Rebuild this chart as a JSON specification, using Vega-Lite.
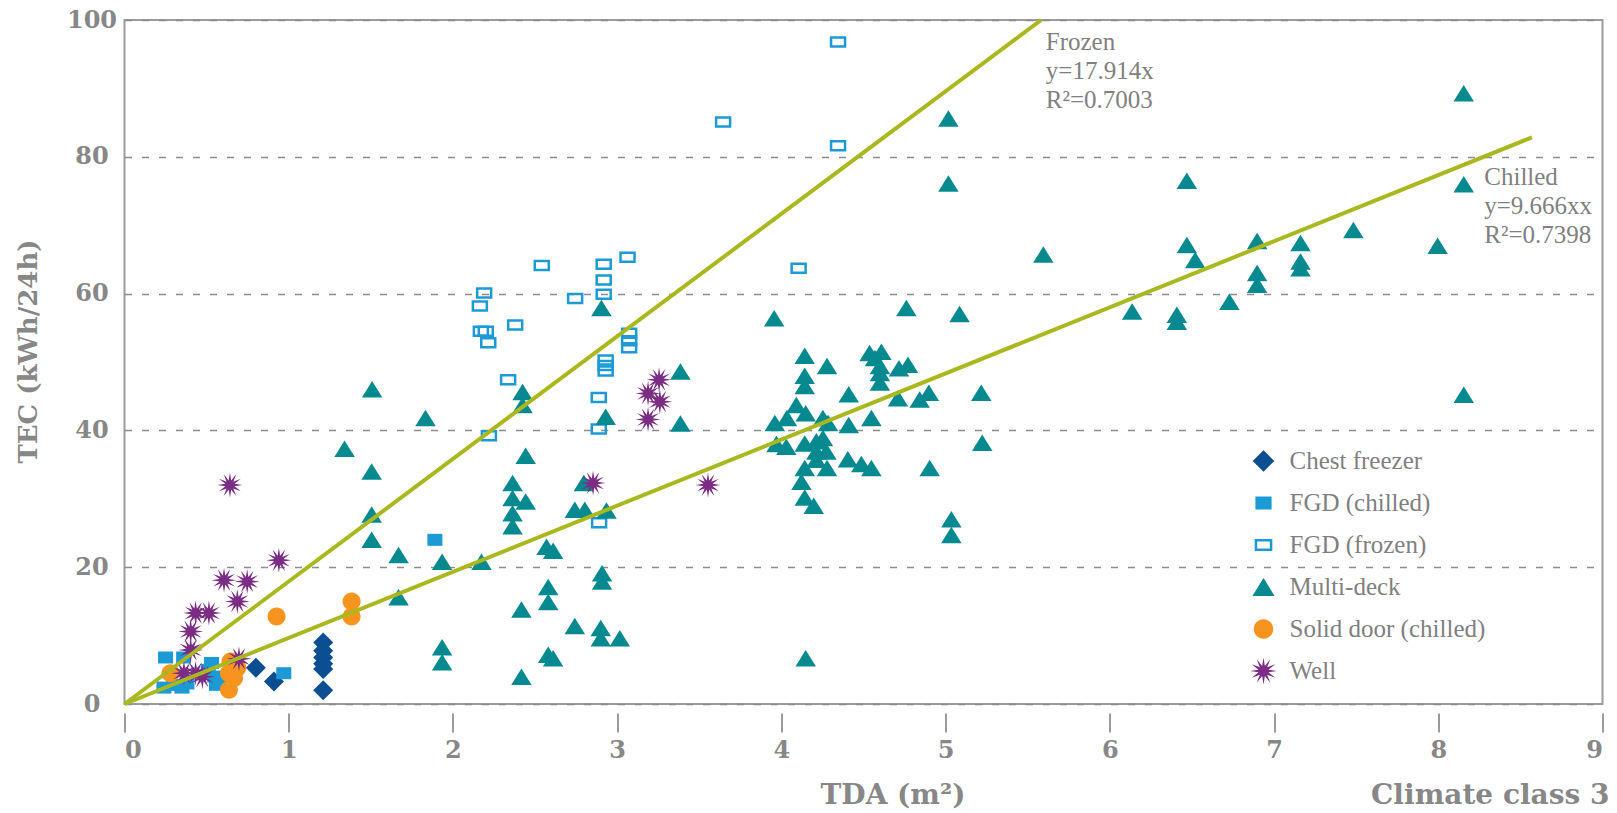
{
  "$schema": "https://vega.github.io/schema/vega-lite/v6.json",
  "width": 1478,
  "height": 684,
  "autosize": "none",
  "padding": {"left": 124.5, "top": 20, "right": 14.5, "bottom": 109},
  "background": "white",
  "config": {
    "view": {"stroke": "#9b9b9b", "strokeWidth": 2},
    "legend": {
      "orient": "none",
      "legendX": 1124,
      "legendY": 426,
      "padding": 0,
      "labelFont": "Liberation Serif",
      "labelFontSize": 25,
      "labelColor": "#808080",
      "labelOffset": 11,
      "labelLimit": 0,
      "symbolSize": 729,
      "symbolStrokeWidth": 2.5,
      "gridAlign": "all",
      "rowPadding": 4
    }
  },
  "title": {
    "text": "Climate class 3",
    "orient": "bottom",
    "anchor": "end",
    "frame": "group",
    "font": "DejaVu Serif",
    "fontWeight": "bold",
    "fontSize": 28,
    "color": "#878787",
    "offset": -27,
    "dx": 7
  },
  "datasets": {
    "pts": [
      {"type": "Chest freezer", "TDA": 0.80, "TEC": 5.3},
      {"type": "Chest freezer", "TDA": 0.91, "TEC": 3.3},
      {"type": "Chest freezer", "TDA": 1.21, "TEC": 9.0},
      {"type": "Chest freezer", "TDA": 1.21, "TEC": 7.8},
      {"type": "Chest freezer", "TDA": 1.21, "TEC": 6.8},
      {"type": "Chest freezer", "TDA": 1.21, "TEC": 5.9},
      {"type": "Chest freezer", "TDA": 1.21, "TEC": 5.1},
      {"type": "Chest freezer", "TDA": 1.21, "TEC": 2.0},

      {"type": "FGD (chilled)", "TDA": 0.25, "TEC": 6.8},
      {"type": "FGD (chilled)", "TDA": 0.36, "TEC": 6.8},
      {"type": "FGD (chilled)", "TDA": 0.24, "TEC": 2.4},
      {"type": "FGD (chilled)", "TDA": 0.30, "TEC": 2.8},
      {"type": "FGD (chilled)", "TDA": 0.35, "TEC": 2.4},
      {"type": "FGD (chilled)", "TDA": 0.38, "TEC": 3.0},
      {"type": "FGD (chilled)", "TDA": 0.51, "TEC": 5.0},
      {"type": "FGD (chilled)", "TDA": 0.53, "TEC": 6.0},
      {"type": "FGD (chilled)", "TDA": 0.55, "TEC": 4.0},
      {"type": "FGD (chilled)", "TDA": 0.56, "TEC": 2.8},
      {"type": "FGD (chilled)", "TDA": 0.59, "TEC": 3.4},
      {"type": "FGD (chilled)", "TDA": 0.97, "TEC": 4.5},
      {"type": "FGD (chilled)", "TDA": 1.89, "TEC": 24.0},

      {"type": "FGD (frozen)", "TDA": 4.345, "TEC": 96.8},
      {"type": "FGD (frozen)", "TDA": 4.345, "TEC": 81.6},
      {"type": "FGD (frozen)", "TDA": 3.645, "TEC": 85.1},
      {"type": "FGD (frozen)", "TDA": 2.541, "TEC": 64.1},
      {"type": "FGD (frozen)", "TDA": 2.918, "TEC": 64.3},
      {"type": "FGD (frozen)", "TDA": 3.063, "TEC": 65.3},
      {"type": "FGD (frozen)", "TDA": 2.918, "TEC": 62.0},
      {"type": "FGD (frozen)", "TDA": 2.918, "TEC": 59.9},
      {"type": "FGD (frozen)", "TDA": 2.744, "TEC": 59.3},
      {"type": "FGD (frozen)", "TDA": 2.19, "TEC": 60.1},
      {"type": "FGD (frozen)", "TDA": 2.164, "TEC": 58.2},
      {"type": "FGD (frozen)", "TDA": 2.17, "TEC": 54.5},
      {"type": "FGD (frozen)", "TDA": 2.20, "TEC": 54.5},
      {"type": "FGD (frozen)", "TDA": 2.215, "TEC": 52.8},
      {"type": "FGD (frozen)", "TDA": 2.379, "TEC": 55.4},
      {"type": "FGD (frozen)", "TDA": 3.073, "TEC": 54.2},
      {"type": "FGD (frozen)", "TDA": 3.073, "TEC": 53.1},
      {"type": "FGD (frozen)", "TDA": 3.073, "TEC": 52.1},
      {"type": "FGD (frozen)", "TDA": 2.93, "TEC": 50.3},
      {"type": "FGD (frozen)", "TDA": 2.93, "TEC": 49.5},
      {"type": "FGD (frozen)", "TDA": 2.93, "TEC": 48.7},
      {"type": "FGD (frozen)", "TDA": 2.336, "TEC": 47.4},
      {"type": "FGD (frozen)", "TDA": 2.888, "TEC": 44.8},
      {"type": "FGD (frozen)", "TDA": 2.219, "TEC": 39.2},
      {"type": "FGD (frozen)", "TDA": 2.888, "TEC": 40.2},
      {"type": "FGD (frozen)", "TDA": 4.105, "TEC": 63.7},
      {"type": "FGD (frozen)", "TDA": 2.89, "TEC": 26.5},

      {"type": "Multi-deck", "TDA": 1.508, "TEC": 46.0},
      {"type": "Multi-deck", "TDA": 1.833, "TEC": 41.8},
      {"type": "Multi-deck", "TDA": 1.340, "TEC": 37.3},
      {"type": "Multi-deck", "TDA": 1.505, "TEC": 34.0},
      {"type": "Multi-deck", "TDA": 1.505, "TEC": 27.7},
      {"type": "Multi-deck", "TDA": 1.505, "TEC": 24.0},
      {"type": "Multi-deck", "TDA": 1.669, "TEC": 21.8},
      {"type": "Multi-deck", "TDA": 1.934, "TEC": 20.8},
      {"type": "Multi-deck", "TDA": 1.669, "TEC": 15.6},
      {"type": "Multi-deck", "TDA": 1.934, "TEC": 8.3},
      {"type": "Multi-deck", "TDA": 1.934, "TEC": 6.1},
      {"type": "Multi-deck", "TDA": 2.424, "TEC": 45.6},
      {"type": "Multi-deck", "TDA": 2.424, "TEC": 43.7},
      {"type": "Multi-deck", "TDA": 2.93, "TEC": 42.0},
      {"type": "Multi-deck", "TDA": 2.904, "TEC": 57.9},
      {"type": "Multi-deck", "TDA": 3.385, "TEC": 41.0},
      {"type": "Multi-deck", "TDA": 3.385, "TEC": 48.6},
      {"type": "Multi-deck", "TDA": 2.443, "TEC": 36.3},
      {"type": "Multi-deck", "TDA": 2.363, "TEC": 32.3},
      {"type": "Multi-deck", "TDA": 2.363, "TEC": 30.1},
      {"type": "Multi-deck", "TDA": 2.443, "TEC": 29.6},
      {"type": "Multi-deck", "TDA": 2.363, "TEC": 27.9},
      {"type": "Multi-deck", "TDA": 2.363, "TEC": 26.0},
      {"type": "Multi-deck", "TDA": 2.797, "TEC": 32.3},
      {"type": "Multi-deck", "TDA": 2.742, "TEC": 28.4},
      {"type": "Multi-deck", "TDA": 2.803, "TEC": 28.4},
      {"type": "Multi-deck", "TDA": 2.935, "TEC": 28.3},
      {"type": "Multi-deck", "TDA": 2.57, "TEC": 23.0},
      {"type": "Multi-deck", "TDA": 2.61, "TEC": 22.4},
      {"type": "Multi-deck", "TDA": 2.174, "TEC": 20.8},
      {"type": "Multi-deck", "TDA": 2.908, "TEC": 19.1},
      {"type": "Multi-deck", "TDA": 2.908, "TEC": 17.9},
      {"type": "Multi-deck", "TDA": 2.58, "TEC": 17.1},
      {"type": "Multi-deck", "TDA": 2.58, "TEC": 14.9},
      {"type": "Multi-deck", "TDA": 2.417, "TEC": 13.8},
      {"type": "Multi-deck", "TDA": 2.742, "TEC": 11.4},
      {"type": "Multi-deck", "TDA": 2.9, "TEC": 11.1},
      {"type": "Multi-deck", "TDA": 2.9, "TEC": 9.6},
      {"type": "Multi-deck", "TDA": 3.016, "TEC": 9.6},
      {"type": "Multi-deck", "TDA": 2.58, "TEC": 7.2},
      {"type": "Multi-deck", "TDA": 2.61, "TEC": 6.7},
      {"type": "Multi-deck", "TDA": 2.417, "TEC": 4.0},
      {"type": "Multi-deck", "TDA": 3.956, "TEC": 56.4},
      {"type": "Multi-deck", "TDA": 4.761, "TEC": 57.9},
      {"type": "Multi-deck", "TDA": 5.085, "TEC": 57.0},
      {"type": "Multi-deck", "TDA": 5.017, "TEC": 85.6},
      {"type": "Multi-deck", "TDA": 5.017, "TEC": 76.1},
      {"type": "Multi-deck", "TDA": 5.595, "TEC": 65.7},
      {"type": "Multi-deck", "TDA": 4.142, "TEC": 50.9},
      {"type": "Multi-deck", "TDA": 4.278, "TEC": 49.4},
      {"type": "Multi-deck", "TDA": 4.142, "TEC": 48.0},
      {"type": "Multi-deck", "TDA": 4.142, "TEC": 46.5},
      {"type": "Multi-deck", "TDA": 4.537, "TEC": 51.3},
      {"type": "Multi-deck", "TDA": 4.609, "TEC": 51.5},
      {"type": "Multi-deck", "TDA": 4.57, "TEC": 50.6},
      {"type": "Multi-deck", "TDA": 4.60, "TEC": 49.4},
      {"type": "Multi-deck", "TDA": 4.60, "TEC": 48.4},
      {"type": "Multi-deck", "TDA": 4.60, "TEC": 47.0},
      {"type": "Multi-deck", "TDA": 4.716, "TEC": 49.1},
      {"type": "Multi-deck", "TDA": 4.771, "TEC": 49.6},
      {"type": "Multi-deck", "TDA": 4.41, "TEC": 45.3},
      {"type": "Multi-deck", "TDA": 4.71, "TEC": 44.7},
      {"type": "Multi-deck", "TDA": 4.842, "TEC": 44.5},
      {"type": "Multi-deck", "TDA": 4.898, "TEC": 45.5},
      {"type": "Multi-deck", "TDA": 5.217, "TEC": 45.5},
      {"type": "Multi-deck", "TDA": 4.091, "TEC": 43.7},
      {"type": "Multi-deck", "TDA": 4.148, "TEC": 42.5},
      {"type": "Multi-deck", "TDA": 4.034, "TEC": 41.8},
      {"type": "Multi-deck", "TDA": 3.96, "TEC": 41.1},
      {"type": "Multi-deck", "TDA": 4.253, "TEC": 41.8},
      {"type": "Multi-deck", "TDA": 4.284, "TEC": 41.1},
      {"type": "Multi-deck", "TDA": 4.41, "TEC": 40.8},
      {"type": "Multi-deck", "TDA": 4.548, "TEC": 41.8},
      {"type": "Multi-deck", "TDA": 3.97, "TEC": 38.0},
      {"type": "Multi-deck", "TDA": 4.03, "TEC": 37.6},
      {"type": "Multi-deck", "TDA": 4.142, "TEC": 38.1},
      {"type": "Multi-deck", "TDA": 4.213, "TEC": 38.4},
      {"type": "Multi-deck", "TDA": 4.253, "TEC": 38.9},
      {"type": "Multi-deck", "TDA": 4.213, "TEC": 36.9},
      {"type": "Multi-deck", "TDA": 4.274, "TEC": 36.9},
      {"type": "Multi-deck", "TDA": 4.213, "TEC": 35.7},
      {"type": "Multi-deck", "TDA": 4.405, "TEC": 35.8},
      {"type": "Multi-deck", "TDA": 4.487, "TEC": 35.1},
      {"type": "Multi-deck", "TDA": 4.548, "TEC": 34.5},
      {"type": "Multi-deck", "TDA": 4.278, "TEC": 34.5},
      {"type": "Multi-deck", "TDA": 4.142, "TEC": 34.5},
      {"type": "Multi-deck", "TDA": 4.903, "TEC": 34.5},
      {"type": "Multi-deck", "TDA": 4.122, "TEC": 32.5},
      {"type": "Multi-deck", "TDA": 4.142, "TEC": 30.2},
      {"type": "Multi-deck", "TDA": 4.197, "TEC": 29.0},
      {"type": "Multi-deck", "TDA": 5.223, "TEC": 38.2},
      {"type": "Multi-deck", "TDA": 5.035, "TEC": 27.0},
      {"type": "Multi-deck", "TDA": 5.035, "TEC": 24.7},
      {"type": "Multi-deck", "TDA": 4.148, "TEC": 6.7},
      {"type": "Multi-deck", "TDA": 8.155, "TEC": 89.3},
      {"type": "Multi-deck", "TDA": 6.469, "TEC": 76.5},
      {"type": "Multi-deck", "TDA": 8.155, "TEC": 76.0},
      {"type": "Multi-deck", "TDA": 7.483, "TEC": 69.3},
      {"type": "Multi-deck", "TDA": 6.469, "TEC": 67.1},
      {"type": "Multi-deck", "TDA": 6.52, "TEC": 64.9},
      {"type": "Multi-deck", "TDA": 6.897, "TEC": 67.7},
      {"type": "Multi-deck", "TDA": 6.897, "TEC": 63.0},
      {"type": "Multi-deck", "TDA": 6.897, "TEC": 61.3},
      {"type": "Multi-deck", "TDA": 7.161, "TEC": 67.4},
      {"type": "Multi-deck", "TDA": 7.161, "TEC": 64.7},
      {"type": "Multi-deck", "TDA": 7.161, "TEC": 63.7},
      {"type": "Multi-deck", "TDA": 7.996, "TEC": 67.0},
      {"type": "Multi-deck", "TDA": 6.728, "TEC": 58.8},
      {"type": "Multi-deck", "TDA": 6.136, "TEC": 57.4},
      {"type": "Multi-deck", "TDA": 6.408, "TEC": 56.9},
      {"type": "Multi-deck", "TDA": 6.408, "TEC": 55.9},
      {"type": "Multi-deck", "TDA": 8.155, "TEC": 45.2},

      {"type": "Solid door (chilled)", "TDA": 0.28, "TEC": 4.5},
      {"type": "Solid door (chilled)", "TDA": 0.636, "TEC": 2.1},
      {"type": "Solid door (chilled)", "TDA": 0.636, "TEC": 4.5},
      {"type": "Solid door (chilled)", "TDA": 0.646, "TEC": 6.2},
      {"type": "Solid door (chilled)", "TDA": 0.687, "TEC": 5.3},
      {"type": "Solid door (chilled)", "TDA": 0.667, "TEC": 3.8},
      {"type": "Solid door (chilled)", "TDA": 0.926, "TEC": 12.8},
      {"type": "Solid door (chilled)", "TDA": 1.383, "TEC": 15.0},
      {"type": "Solid door (chilled)", "TDA": 1.383, "TEC": 12.8},

      {"type": "Well", "TDA": 0.642, "TEC": 32.0},
      {"type": "Well", "TDA": 0.940, "TEC": 21.0},
      {"type": "Well", "TDA": 0.606, "TEC": 18.1},
      {"type": "Well", "TDA": 0.747, "TEC": 17.9},
      {"type": "Well", "TDA": 0.687, "TEC": 15.0},
      {"type": "Well", "TDA": 0.433, "TEC": 13.3},
      {"type": "Well", "TDA": 0.514, "TEC": 13.3},
      {"type": "Well", "TDA": 0.403, "TEC": 10.6},
      {"type": "Well", "TDA": 0.403, "TEC": 7.9},
      {"type": "Well", "TDA": 0.697, "TEC": 6.6},
      {"type": "Well", "TDA": 0.362, "TEC": 4.5},
      {"type": "Well", "TDA": 0.433, "TEC": 4.5},
      {"type": "Well", "TDA": 0.474, "TEC": 4.0},
      {"type": "Well", "TDA": 3.255, "TEC": 47.4},
      {"type": "Well", "TDA": 3.188, "TEC": 45.4},
      {"type": "Well", "TDA": 3.26, "TEC": 44.2},
      {"type": "Well", "TDA": 3.188, "TEC": 41.6},
      {"type": "Well", "TDA": 2.853, "TEC": 32.3},
      {"type": "Well", "TDA": 3.553, "TEC": 32.0}
    ],
    "trend": [
      {"fit": "Frozen", "TDA": 0, "TEC": 0},
      {"fit": "Frozen", "TDA": 5.582, "TEC": 100},
      {"fit": "Chilled", "TDA": 0, "TEC": 0},
      {"fit": "Chilled", "TDA": 8.57, "TEC": 82.84}
    ],
    "notes": [
      {"TDA": 5.61, "TEC": 95.6, "label": "Frozen\ny=17.914x\nR²=0.7003"},
      {"TDA": 8.28, "TEC": 75.9, "label": "Chilled\ny=9.666xx\nR²=0.7398"}
    ]
  },
  "encoding": {
    "x": {
      "field": "TDA",
      "type": "quantitative",
      "scale": {"domain": [0, 9], "nice": false, "zero": false},
      "axis": {
        "title": "TDA (m²)",
        "values": [0, 1, 2, 3, 4, 5, 6, 7, 8, 9],
        "grid": false,
        "domain": false,
        "offset": 9,
        "ticks": true,
        "tickSize": 19,
        "tickWidth": 2,
        "tickColor": "#9b9b9b",
        "labelPadding": 6,
        "labelFont": "DejaVu Serif",
        "labelFontWeight": "bold",
        "labelFontSize": 24,
        "labelColor": "#878787",
        "titleFont": "DejaVu Serif",
        "titleFontWeight": "bold",
        "titleFontSize": 28,
        "titleColor": "#878787",
        "titleBaseline": "alphabetic",
        "titleX": 768,
        "titleY": 90
      }
    },
    "y": {
      "field": "TEC",
      "type": "quantitative",
      "scale": {"domain": [0, 100], "nice": false},
      "axis": {
        "title": "TEC (kWh/24h)",
        "values": [0, 20, 40, 60, 80, 100],
        "grid": true,
        "gridColor": "#8c8c8c",
        "gridDash": [7, 10],
        "gridWidth": 1.5,
        "domain": false,
        "ticks": false,
        "tickSize": 0,
        "labelPadding": 33,
        "labelAlign": "center",
        "labelBaseline": "middle",
        "labelFont": "DejaVu Serif",
        "labelFontWeight": "bold",
        "labelFontSize": 24,
        "labelColor": "#878787",
        "titleFont": "DejaVu Serif",
        "titleFontWeight": "bold",
        "titleFontSize": 26,
        "titleColor": "#878787",
        "titleAngle": -90,
        "titleAlign": "center",
        "titleBaseline": "middle",
        "titleX": -96,
        "titleY": 331
      }
    }
  },
  "layer": [
    {
      "data": {"name": "pts"},
      "mark": {"type": "point", "filled": true, "opacity": 1, "size": 625, "strokeWidth": 2.5},
      "encoding": {
        "shape": {
          "field": "type",
          "type": "nominal",
          "scale": {
            "domain": ["Chest freezer", "FGD (chilled)", "FGD (frozen)", "Multi-deck", "Solid door (chilled)", "Well"],
            "range": [
              "M0,-0.8L0.8,0L0,0.8L-0.8,0Z",
              "M-0.6,-0.48H0.6V0.48H-0.6Z",
              "M-0.56,-0.36H0.56V0.36H-0.56Z",
              "M0,-0.66L0.82,0.66L-0.82,0.66Z",
              "M0.72,0C0.72,0.3977,0.3977,0.72,0,0.72C-0.3977,0.72,-0.72,0.3977,-0.72,0C-0.72,-0.3977,-0.3977,-0.72,0,-0.72C0.3977,-0.72,0.72,-0.3977,0.72,0Z",
              "M1,0L0.37,0.1L0.87,0.5L0.27,0.27L0.5,0.87L0.1,0.37L0,1L-0.1,0.37L-0.5,0.87L-0.27,0.27L-0.87,0.5L-0.37,0.1L-1,0L-0.37,-0.1L-0.87,-0.5L-0.27,-0.27L-0.5,-0.87L-0.1,-0.37L0,-1L0.1,-0.37L0.5,-0.87L0.27,-0.27L0.87,-0.5L0.37,-0.1Z"
            ]
          },
          "legend": {"title": null, "orient": "none", "legendX": 1124, "legendY": 426, "labelFont": "Liberation Serif", "labelFontSize": 25, "labelLimit": 0, "gridAlign": "all", "rowPadding": 4}
        },
        "fill": {
          "field": "type",
          "type": "nominal",
          "scale": {
            "domain": ["Chest freezer", "FGD (chilled)", "FGD (frozen)", "Multi-deck", "Solid door (chilled)", "Well"],
            "range": ["#0b4f92", "#1b9ad6", "transparent", "#068a8f", "#f7941d", "#7b2c83"]
          },
          "legend": {"title": null, "orient": "none", "legendX": 1124, "legendY": 426, "labelFont": "Liberation Serif", "labelFontSize": 25, "labelLimit": 0, "gridAlign": "all", "rowPadding": 4}
        },
        "stroke": {
          "field": "type",
          "type": "nominal",
          "scale": {
            "domain": ["Chest freezer", "FGD (chilled)", "FGD (frozen)", "Multi-deck", "Solid door (chilled)", "Well"],
            "range": ["transparent", "transparent", "#1b9ad6", "transparent", "transparent", "transparent"]
          },
          "legend": {"title": null, "orient": "none", "legendX": 1124, "legendY": 426, "labelFont": "Liberation Serif", "labelFontSize": 25, "labelLimit": 0, "gridAlign": "all", "rowPadding": 4}
        }
      }
    },
    {
      "data": {"name": "trend"},
      "mark": {"type": "line", "color": "#a9b81f", "strokeWidth": 4},
      "encoding": {
        "detail": {"field": "fit", "type": "nominal"}
      }
    },
    {
      "data": {"name": "notes"},
      "mark": {
        "type": "text",
        "align": "left",
        "baseline": "alphabetic",
        "font": "Liberation Serif",
        "fontSize": 25,
        "lineHeight": 29,
        "lineBreak": "\n",
        "color": "#808080"
      },
      "encoding": {
        "text": {"field": "label", "type": "nominal"}
      }
    }
  ]
}
